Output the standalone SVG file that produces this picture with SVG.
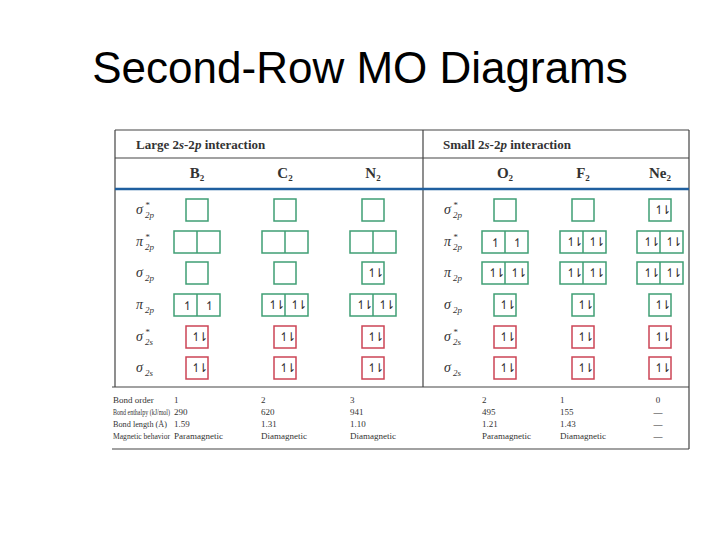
<svg xmlns="http://www.w3.org/2000/svg" width="720" height="540" viewBox="0 0 720 540">
<style>
.t{font-family:"Liberation Sans",Arial,sans-serif;font-size:44px;fill:#000}
.h{font-family:"Liberation Serif","Times New Roman",serif;font-size:13px;font-weight:bold;fill:#333}
.m{font-family:"Liberation Serif","Times New Roman",serif;font-size:15px;font-weight:bold;fill:#333;text-anchor:middle}
.l{font-family:"Liberation Serif","Times New Roman",serif;font-size:14px;font-style:italic;fill:#333}
.ls{font-family:"Liberation Serif","Times New Roman",serif;font-size:9px;font-style:italic;fill:#333}
.s{font-size:9px}
.d{font-family:"Liberation Serif","Times New Roman",serif;font-size:9px;fill:#333}
.g{fill:#fff;stroke:#3f9e74;stroke-width:1.5}
.r{fill:#fff;stroke:#cc4455;stroke-width:1.5}
.e{font-family:"DejaVu Sans",sans-serif;font-size:12px;fill:#333;text-anchor:middle;letter-spacing:-3px}
.ln{stroke:#444;stroke-width:1.2;fill:none}
.dv{stroke:#3f9e74;stroke-width:1.5}
</style>
<text class="t" x="360" y="83" text-anchor="middle">Second-Row MO Diagrams</text>
<g id="table">
<line class="ln" x1="115" y1="130" x2="689" y2="130"/>
<line class="ln" x1="115" y1="130" x2="115" y2="387"/>
<line class="ln" x1="689" y1="130" x2="689" y2="449"/>
<line class="ln" x1="423" y1="130" x2="423" y2="387"/>
<line class="ln" x1="115" y1="158" x2="689" y2="158"/>
<line x1="115" y1="189" x2="689" y2="189" stroke="#1f5f9f" stroke-width="2.5"/>
<line class="ln" x1="112" y1="387" x2="689" y2="387"/>
<line class="ln" x1="112" y1="449" x2="689" y2="449"/>
<text class="h" x="136" y="149">Large 2<tspan font-style="italic">s</tspan>-2<tspan font-style="italic">p</tspan> interaction</text>
<text class="h" x="443" y="149">Small 2<tspan font-style="italic">s</tspan>-2<tspan font-style="italic">p</tspan> interaction</text>
<text class="m" x="197" y="178">B<tspan class="s" dy="3">2</tspan></text>
<text class="m" x="285" y="178">C<tspan class="s" dy="3">2</tspan></text>
<text class="m" x="373" y="178">N<tspan class="s" dy="3">2</tspan></text>
<text class="m" x="505" y="178">O<tspan class="s" dy="3">2</tspan></text>
<text class="m" x="583" y="178">F<tspan class="s" dy="3">2</tspan></text>
<text class="m" x="660" y="178">Ne<tspan class="s" dy="3">2</tspan></text>
</g>
<g id="labels-left">
<text class="l" x="136" y="214">σ</text><text class="ls" x="145" y="208">*</text><text class="ls" x="145" y="218">2p</text>
<text class="l" x="136" y="246">π</text><text class="ls" x="145" y="240">*</text><text class="ls" x="145" y="250">2p</text>
<text class="l" x="136" y="277">σ</text><text class="ls" x="145" y="281">2p</text>
<text class="l" x="136" y="309">π</text><text class="ls" x="145" y="313">2p</text>
<text class="l" x="136" y="341">σ</text><text class="ls" x="145" y="335">*</text><text class="ls" x="145" y="345">2s</text>
<text class="l" x="136" y="372">σ</text><text class="ls" x="145" y="376">2s</text>
</g>
<g id="labels-right">
<text class="l" x="444" y="214">σ</text><text class="ls" x="453" y="208">*</text><text class="ls" x="453" y="218">2p</text>
<text class="l" x="444" y="246">π</text><text class="ls" x="453" y="240">*</text><text class="ls" x="453" y="250">2p</text>
<text class="l" x="444" y="277">π</text><text class="ls" x="453" y="281">2p</text>
<text class="l" x="444" y="309">σ</text><text class="ls" x="453" y="313">2p</text>
<text class="l" x="444" y="341">σ</text><text class="ls" x="453" y="335">*</text><text class="ls" x="453" y="345">2s</text>
<text class="l" x="444" y="372">σ</text><text class="ls" x="453" y="376">2s</text>
</g>
<g id="boxes">
<rect class="g" x="186" y="199" width="22" height="22"/>
<rect class="g" x="174" y="231" width="46" height="22"/><line class="dv" x1="197" y1="231" x2="197" y2="253"/>
<rect class="g" x="186" y="262" width="22" height="22"/>
<rect class="g" x="174" y="294" width="46" height="22"/><line class="dv" x1="197" y1="294" x2="197" y2="316"/>
<text class="e" x="186" y="310">↿</text><text class="e" x="208" y="310">↿</text>
<rect class="r" x="186" y="326" width="22" height="22"/><text class="e" x="198" y="341">↿⇂</text>
<rect class="r" x="186" y="357" width="22" height="22"/><text class="e" x="198" y="372">↿⇂</text>
<rect class="g" x="274" y="199" width="22" height="22"/>
<rect class="g" x="262" y="231" width="46" height="22"/><line class="dv" x1="285" y1="231" x2="285" y2="253"/>
<rect class="g" x="274" y="262" width="22" height="22"/>
<rect class="g" x="262" y="294" width="46" height="22"/><line class="dv" x1="285" y1="294" x2="285" y2="316"/>
<text class="e" x="275" y="309">↿⇂</text><text class="e" x="297" y="309">↿⇂</text>
<rect class="r" x="274" y="326" width="22" height="22"/><text class="e" x="286" y="341">↿⇂</text>
<rect class="r" x="274" y="357" width="22" height="22"/><text class="e" x="286" y="372">↿⇂</text>
<rect class="g" x="362" y="199" width="22" height="22"/>
<rect class="g" x="350" y="231" width="46" height="22"/><line class="dv" x1="373" y1="231" x2="373" y2="253"/>
<rect class="g" x="362" y="262" width="22" height="22"/><text class="e" x="374" y="277">↿⇂</text>
<rect class="g" x="350" y="294" width="46" height="22"/><line class="dv" x1="373" y1="294" x2="373" y2="316"/>
<text class="e" x="363" y="309">↿⇂</text><text class="e" x="385" y="309">↿⇂</text>
<rect class="r" x="362" y="326" width="22" height="22"/><text class="e" x="374" y="341">↿⇂</text>
<rect class="r" x="362" y="357" width="22" height="22"/><text class="e" x="374" y="372">↿⇂</text>
<rect class="g" x="494" y="199" width="22" height="22"/>
<rect class="g" x="482" y="231" width="46" height="22"/><line class="dv" x1="505" y1="231" x2="505" y2="253"/>
<text class="e" x="494" y="247">↿</text><text class="e" x="516" y="247">↿</text>
<rect class="g" x="482" y="262" width="46" height="22"/><line class="dv" x1="505" y1="262" x2="505" y2="284"/>
<text class="e" x="495" y="277">↿⇂</text><text class="e" x="517" y="277">↿⇂</text>
<rect class="g" x="494" y="294" width="22" height="22"/><text class="e" x="506" y="309">↿⇂</text>
<rect class="r" x="494" y="326" width="22" height="22"/><text class="e" x="506" y="341">↿⇂</text>
<rect class="r" x="494" y="357" width="22" height="22"/><text class="e" x="506" y="372">↿⇂</text>
<rect class="g" x="572" y="199" width="22" height="22"/>
<rect class="g" x="560" y="231" width="46" height="22"/><line class="dv" x1="583" y1="231" x2="583" y2="253"/>
<text class="e" x="573" y="246">↿⇂</text><text class="e" x="595" y="246">↿⇂</text>
<rect class="g" x="560" y="262" width="46" height="22"/><line class="dv" x1="583" y1="262" x2="583" y2="284"/>
<text class="e" x="573" y="277">↿⇂</text><text class="e" x="595" y="277">↿⇂</text>
<rect class="g" x="572" y="294" width="22" height="22"/><text class="e" x="584" y="309">↿⇂</text>
<rect class="r" x="572" y="326" width="22" height="22"/><text class="e" x="584" y="341">↿⇂</text>
<rect class="r" x="572" y="357" width="22" height="22"/><text class="e" x="584" y="372">↿⇂</text>
<rect class="g" x="649" y="199" width="22" height="22"/><text class="e" x="661" y="214">↿⇂</text>
<rect class="g" x="637" y="231" width="46" height="22"/><line class="dv" x1="660" y1="231" x2="660" y2="253"/>
<text class="e" x="650" y="246">↿⇂</text><text class="e" x="672" y="246">↿⇂</text>
<rect class="g" x="637" y="262" width="46" height="22"/><line class="dv" x1="660" y1="262" x2="660" y2="284"/>
<text class="e" x="650" y="277">↿⇂</text><text class="e" x="672" y="277">↿⇂</text>
<rect class="g" x="649" y="294" width="22" height="22"/><text class="e" x="661" y="309">↿⇂</text>
<rect class="r" x="649" y="326" width="22" height="22"/><text class="e" x="661" y="341">↿⇂</text>
<rect class="r" x="649" y="357" width="22" height="22"/><text class="e" x="661" y="372">↿⇂</text>
</g>
<g id="data">
<text class="d" x="113" y="403">Bond order</text>
<text class="d" x="113" y="415" textLength="57" lengthAdjust="spacingAndGlyphs">Bond enthalpy (kJ/mol)</text>
<text class="d" x="113" y="427" textLength="54" lengthAdjust="spacingAndGlyphs">Bond length (Å)</text>
<text class="d" x="113" y="439" textLength="57" lengthAdjust="spacingAndGlyphs">Magnetic behavior</text>
<text class="d" x="174" y="403">1</text><text class="d" x="174" y="415">290</text><text class="d" x="174" y="427">1.59</text><text class="d" x="174" y="439">Paramagnetic</text>
<text class="d" x="261" y="403">2</text><text class="d" x="261" y="415">620</text><text class="d" x="261" y="427">1.31</text><text class="d" x="261" y="439">Diamagnetic</text>
<text class="d" x="350" y="403">3</text><text class="d" x="350" y="415">941</text><text class="d" x="350" y="427">1.10</text><text class="d" x="350" y="439">Diamagnetic</text>
<text class="d" x="482" y="403">2</text><text class="d" x="482" y="415">495</text><text class="d" x="482" y="427">1.21</text><text class="d" x="482" y="439">Paramagnetic</text>
<text class="d" x="560" y="403">1</text><text class="d" x="560" y="415">155</text><text class="d" x="560" y="427">1.43</text><text class="d" x="560" y="439">Diamagnetic</text>
<text class="d" x="658" y="403" text-anchor="middle">0</text><text class="d" x="658" y="415" text-anchor="middle">—</text><text class="d" x="658" y="427" text-anchor="middle">—</text><text class="d" x="658" y="439" text-anchor="middle">—</text>
</g>
</svg>
